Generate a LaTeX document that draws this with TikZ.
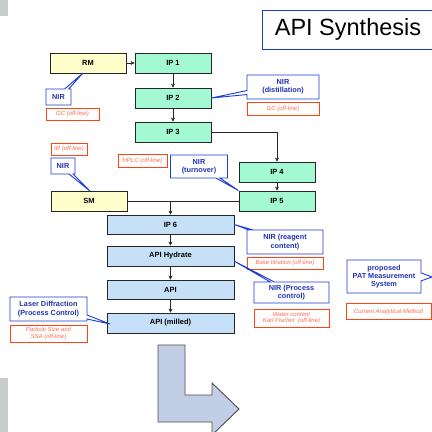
\documentclass[tikz,border=0pt]{standalone}
\usepackage{fontspec}
\setmainfont{Liberation Sans}
\usetikzlibrary{shapes.callouts,arrows.meta}
\definecolor{ipgreen}{HTML}{A3F9D2}
\definecolor{apiblue}{HTML}{C6E0F8}
\definecolor{rmyellow}{HTML}{FFFFCC}
\definecolor{nirblue}{HTML}{1B3BD6}
\definecolor{nirtext}{HTML}{2233B0}
\definecolor{offred}{HTML}{FF4411}
\definecolor{offtext}{HTML}{FF6A4A}
\definecolor{bigarrow}{HTML}{C2CDE6}
\definecolor{barGray}{HTML}{C8CCCA}
\tikzset{
  procbox/.style={draw=black!85,line width=0.85pt,minimum height=20pt,inner sep=0pt,font=\fontsize{7.5}{8}\selectfont\bfseries},
  ipbox/.style={procbox,fill=ipgreen,minimum width=76pt},
  rmbox/.style={procbox,fill=rmyellow,minimum width=76pt},
  apibox/.style={procbox,fill=apiblue,minimum width=127pt},
  nirbox/.style={rectangle callout,draw=nirblue,fill=white,line width=0.9pt,text=nirtext,inner sep=0pt,align=center,font=\fontsize{7.3}{8.3}\selectfont\bfseries,callout pointer width=4pt},
  offbox/.style={draw=offred,line width=0.9pt,text=offtext,inner sep=0pt,align=center,font=\fontsize{6}{6.8}\selectfont\itshape},
  flow/.style={line width=0.7pt,black!85,-{Stealth[length=4pt,width=4pt]}},
  plain/.style={line width=0.7pt,black!85}
}
\begin{document}
\begin{tikzpicture}[x=1pt,y=-1pt]
\useasboundingbox (0,0) rectangle (432,432);
\clip (0,0) rectangle (432,432);
\fill[white] (0,0) rectangle (432,432);
% gray bars at left
\fill[barGray] (0,0) rectangle (8,16);
\fill[barGray] (0,378) rectangle (8,432);
% title
\node[draw=nirblue,line width=0.9pt,minimum width=172pt,minimum height=39pt,inner sep=0pt,font=\fontsize{23.5}{25}\selectfont] (title) at (348,29.5) {API Synthesis};
% big bent arrow
\filldraw[fill=bigarrow,draw=black!70,line width=0.9pt] (158,345) -- (185,345) -- (185,395) -- (212,395) -- (212,383) -- (239,409) -- (212,435) -- (212,422) -- (158,422) -- cycle;
% process boxes
\node[rmbox] (rm) at (88,63) {RM};
\node[ipbox] (ip1) at (173,63) {IP 1};
\node[ipbox] (ip2) at (173,98) {IP 2};
\node[ipbox] (ip3) at (173,132) {IP 3};
\node[ipbox] (ip4) at (277,172) {IP 4};
\node[ipbox] (ip5) at (277,201) {IP 5};
\node[rmbox] (sm) at (89,201) {SM};
\node[apibox,minimum height=19pt] (ip6) at (170.5,224.5) {IP 6};
\node[apibox] (hyd) at (170.5,256) {API Hydrate};
\node[apibox,minimum height=19pt] (api) at (170.5,289.5) {API};
\node[apibox] (mil) at (170.5,323) {API (milled)};
% connectors
\draw[flow] (rm) -- (ip1);
\draw[flow] (ip1) -- (ip2);
\draw[flow] (ip2) -- (ip3);
\coordinate (c34) at (277,132);
\draw[flow] (ip3.east) -- (c34) -- (ip4.north);
\draw[flow] (ip4) -- (ip5);
\draw[plain] (sm.east) -- (ip5.west);
\coordinate (c56) at (170.5,201);
\draw[flow] (c56) -- (ip6.north);
\draw[flow] (ip6) -- (hyd);
\draw[flow] (hyd) -- (api);
\draw[flow] (api) -- (mil);
% callouts and off-line boxes
\coordinate (p1) at (83,73);
\node[nirbox,minimum width=25pt,minimum height=16pt,callout absolute pointer={(p1)}] (nir1) at (58.5,97) {NIR};
\node[offbox,minimum width=53pt,minimum height=12pt] (gc1) at (72.5,114) {GC (off-line)};
\node[nirbox,minimum width=72pt,minimum height=24pt,callout absolute pointer={(ip2.east)}] (nir2) at (283,87) {NIR\\(distillation)};
\node[offbox,minimum width=72pt,minimum height=13pt] (gc2) at (283,108.5) {GC (off-line)};
\node[offbox,minimum width=36pt,minimum height=12pt] (ir) at (69,149) {IR (off-line)};
\coordinate (p3) at (90,191);
\node[nirbox,minimum width=24pt,minimum height=16pt,callout absolute pointer={(p3)}] (nir3) at (63,166) {NIR};
\node[offbox,minimum width=49pt,minimum height=13pt] (hplc) at (142.5,160.5) {HPLC (off-line)};
\node[nirbox,minimum width=57pt,minimum height=23pt,callout absolute pointer={(ip5.north west)}] (nir4) at (199,166.5) {NIR\\(turnover)};
\node[nirbox,minimum width=76pt,minimum height=24pt,callout absolute pointer={(ip6.east)}] (nir5) at (285,242) {NIR (reagent\\content)};
\node[offbox,minimum width=76pt,minimum height=12pt] (base) at (285,263) {Base titration (off-line)};
\coordinate (p6) at (234,261);
\node[nirbox,minimum width=75pt,minimum height=21pt,callout absolute pointer={(p6)}] (nir6) at (291.5,292.5) {NIR (Process\\control)};
\node[offbox,minimum width=75pt,minimum height=18pt] (wc) at (291.5,318) {Water content\\Karl Fischer\ \ (off-line)};
\coordinate (pp) at (432,277);
\node[nirbox,minimum width=74pt,minimum height=33pt,callout absolute pointer={(pp)},callout pointer width=8pt] (pat) at (384,276.5) {proposed\\PAT Measurement\\System};
\node[offbox,minimum width=85pt,minimum height=16pt] (cam) at (388.5,311.5) {Current Analytical Method};
\coordinate (pl) at (110,324);
\node[nirbox,minimum width=77pt,minimum height=24pt,callout absolute pointer={(pl)}] (laser) at (48.5,309) {Laser Diffraction\\(Process Control)};
\node[offbox,minimum width=77pt,minimum height=17pt] (pss) at (48.5,333.5) {Particle Size and\\SSA (off-line)};
\end{tikzpicture}
\end{document}
